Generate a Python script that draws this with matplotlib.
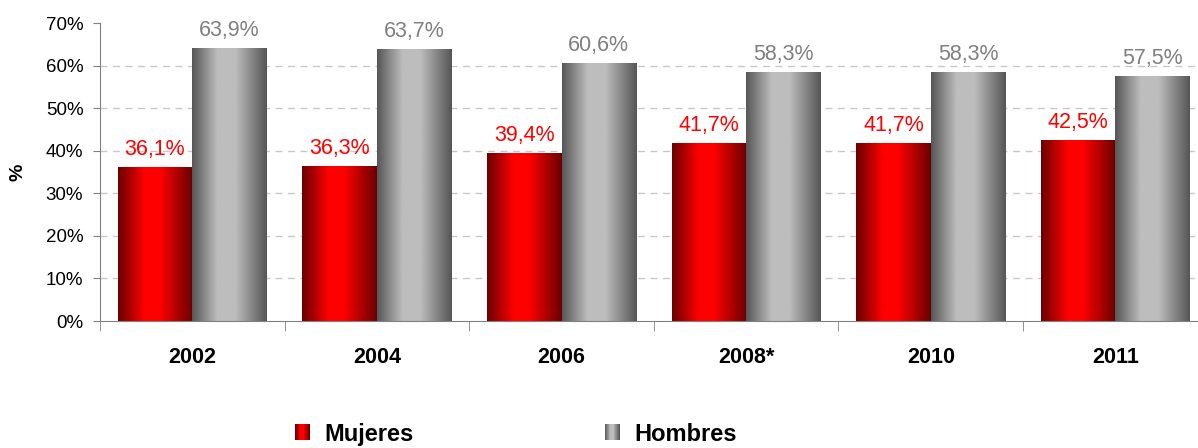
import matplotlib
matplotlib.use("Agg")
import matplotlib.pyplot as plt
import numpy as np
from matplotlib.colors import LinearSegmentedColormap
from matplotlib.legend_handler import HandlerBase
from matplotlib.patches import Rectangle, Patch
from matplotlib.ticker import FixedLocator

plt.rcParams['font.family'] = ['Liberation Sans', 'DejaVu Sans']

years = ["2002", "2004", "2006", "2008*", "2010", "2011"]
mujeres = [36.1, 36.3, 39.4, 41.7, 41.7, 42.5]
hombres = [63.9, 63.7, 60.6, 58.3, 58.3, 57.5]

red_cmap = LinearSegmentedColormap.from_list(
    "rojo", [(0, "#6a0000"), (0.36, "#ff0000"), (0.56, "#ff0000"), (1, "#6a0000")])
gray_cmap = LinearSegmentedColormap.from_list(
    "gris", [(0, "#565656"), (0.34, "#bdbdbd"), (0.58, "#bdbdbd"), (1, "#555555")])


class GradHandler(HandlerBase):
    # legend square drawn as thin stripes so it shows the same gradient
    def __init__(self, cmap):
        super().__init__()
        self.cmap = cmap

    def create_artists(self, legend, orig_handle, xdescent, ydescent,
                       width, height, fontsize, trans):
        n = 24
        arts = []
        for i in range(n):
            r = Rectangle((-xdescent + i * width / n, -ydescent), width / n * 1.05, height,
                          facecolor=self.cmap(i / (n - 1)), linewidth=0, transform=trans)
            arts.append(r)
        return arts


fig = plt.figure(figsize=(11.98, 4.48), dpi=100)
ax = fig.add_axes([100 / 1198, 127 / 448, 1107.7 / 1198, 298 / 448])

x = np.arange(len(years))
w = 0.404
b1 = ax.bar(x - w / 2, mujeres, w, color="#e00000", zorder=2)
b2 = ax.bar(x + w / 2, hombres, w, color="#a0a0a0", zorder=2)

for bars, cmap in [(b1, red_cmap), (b2, gray_cmap)]:
    for b in bars:
        x0 = b.get_x()
        ax.imshow(np.linspace(0, 1, 256)[None, :], cmap=cmap, aspect="auto",
                  extent=[x0, x0 + b.get_width(), 0, b.get_height()],
                  interpolation="bilinear", zorder=3)

for i in range(len(years)):
    ax.annotate(f"{mujeres[i]:.1f}%".replace(".", ","), (x[i] - w / 2, mujeres[i]),
                xytext=(0, 9), textcoords="offset points", ha="center", va="baseline",
                color="#ff0000", fontsize=15.5)
    ax.annotate(f"{hombres[i]:.1f}%".replace(".", ","), (x[i] + w / 2, hombres[i]),
                xytext=(0, 9), textcoords="offset points", ha="center", va="baseline",
                color="#808080", fontsize=15.5)

ax.set_xlim(-0.5, len(years) - 0.5)
ax.set_ylim(0, 70)
ax.set_yticks(np.arange(0, 71, 10))
ax.set_yticklabels([f"{v}%" for v in range(0, 71, 10)], fontsize=13.5)
for v in range(10, 61, 10):
    ax.axhline(v, color="#c8c8c8", lw=1, ls=(0, (5, 4)), zorder=1)

ax.set_xticks(x)
ax.set_xticklabels(years, fontsize=15.5, fontweight="bold")
ax.xaxis.set_minor_locator(FixedLocator(np.arange(-0.5, len(years), 1)))
ax.tick_params(axis="x", which="major", length=0, pad=19)
ax.tick_params(axis="x", which="minor", length=7, color="#808080", direction="out")
ax.tick_params(axis="y", length=5, color="#808080", pad=7)

for s in ["top", "right"]:
    ax.spines[s].set_visible(False)
ax.spines["left"].set_color("#808080")
ax.spines["bottom"].set_color("#808080")
ax.spines["bottom"].set_zorder(4)

ax.set_ylabel("%", fontsize=14, fontweight="bold", labelpad=14)

h1 = Patch(color="#e00000")
h2 = Patch(color="#a0a0a0")
fig.legend([h1, h2], ["Mujeres", "Hombres"], loc="center left",
           bbox_to_anchor=(295 / 1198, 1 - 434 / 448), ncol=2, frameon=False,
           prop={"size": 17, "weight": "bold"}, handlelength=0.64, handleheight=0.64,
           handletextpad=0.6, columnspacing=8.1, borderpad=0, borderaxespad=0,
           handler_map={h1: GradHandler(red_cmap), h2: GradHandler(gray_cmap)})

fig.savefig("out.png", dpi=100)
